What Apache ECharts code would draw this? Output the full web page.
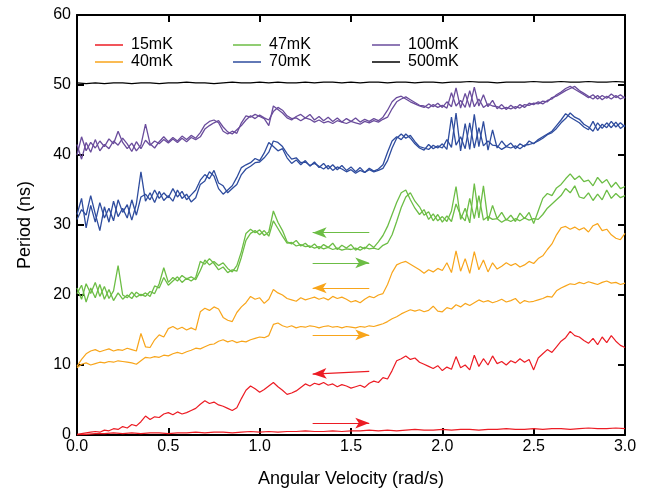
<!DOCTYPE html>
<html>
<head>
<meta charset="utf-8">
<script src="https://cdn.jsdelivr.net/npm/echarts@6/dist/echarts.min.js"></script>
<style>
  html, body { margin: 0; padding: 0; background: #fff; }
  #chart { width: 648px; height: 494px; }
</style>
</head>
<body>
<div id="chart"></div>
<script>
// Period vs angular velocity, sweeps up (forward) and down (backward)

const STEP = 0.025;      // fine sampling for the noisy sweeps
const STEP_FLAT = 0.05;  // coarser sampling for the flat ones

const xTicks = [0, 0.5, 1.0, 1.5, 2.0, 2.5, 3.0];
const yTicks = [0, 10, 20, 30, 40, 50, 60];

// 15mK
const red15Back = [
  0.1, 0.2, 0.3, 0.4, 0.5, 0.4, 0.7, 0.6, 0.9, 0.8,
  1.2, 1.0, 1.5, 1.3, 1.9, 2.7, 2.2, 2.6, 2.5, 3.0,
  3.2, 2.9, 3.3, 3.0, 3.2, 3.5, 3.8, 4.4, 4.9, 4.5,
  4.7, 4.3, 4.1, 3.8, 3.5, 3.9, 5.2, 6.4, 7.0, 6.6,
  6.1, 6.5, 7.0, 7.5, 6.9, 6.4, 5.8, 6.0, 6.3, 6.8,
  7.3, 7.0, 7.4, 7.2, 7.5, 7.1, 7.3, 6.9, 7.2, 7.0,
  6.7, 6.9, 7.1, 6.8, 7.4, 7.7, 7.5, 8.2, 8.0, 9.2,
  10.6, 10.9, 11.3, 10.8, 11.0, 10.4, 10.1, 9.8, 9.5, 9.9,
  9.2, 9.7, 9.4, 11.2, 9.6, 10.0, 9.3, 11.4, 9.8, 10.9,
  10.0, 11.3, 10.2, 10.5, 10.0, 10.6, 10.3, 10.9, 10.4, 10.8,
  9.3, 11.0, 11.6, 12.2, 11.8, 12.6, 13.4, 13.9, 14.8, 14.2,
  14.0, 13.5, 13.1, 13.8, 12.9, 14.0, 13.2, 14.2, 13.4, 12.8,
  12.5
];
const red15Fwd = [ // STEP_FLAT
  0.0, 0.1, 0.2, 0.2, 0.3, 0.2, 0.3, 0.2, 0.3, 0.3,
  0.2, 0.3, 0.3, 0.4, 0.3, 0.4, 0.4, 0.3, 0.4, 0.5,
  0.4, 0.5, 0.4, 0.5, 0.5, 0.6, 0.5, 0.5, 0.6, 0.5,
  0.6, 0.6, 0.7, 0.6, 0.7, 0.6, 0.7, 0.8, 0.7, 0.7,
  0.8, 0.7, 0.8, 0.8, 0.7, 0.8, 0.8, 0.9, 0.8, 0.8,
  0.9, 0.8, 0.9, 0.9, 0.8, 0.9, 1.0, 0.9, 0.9, 1.0,
  0.9
];

// 40mK
const orange40Back = [
  9.8, 10.8, 11.6, 12.0, 12.2, 11.9, 12.1, 12.3, 12.0, 12.2,
  12.1, 12.4, 12.2, 12.0, 14.5, 12.6, 12.5, 13.6, 14.3, 14.0,
  15.2, 15.5, 15.1, 15.4, 15.0, 15.3, 15.0, 17.6, 18.1, 17.8,
  18.3, 18.0, 16.8, 16.4, 16.2, 17.5, 18.3, 18.9, 19.8, 19.4,
  19.6, 18.8, 19.4, 20.8, 20.3, 20.0, 19.5, 19.3, 19.1, 19.6,
  19.3, 19.5, 19.7, 19.4, 19.6, 19.3, 19.8, 19.5, 19.7, 19.4,
  19.0, 19.2, 18.9, 19.4, 19.8, 19.6, 20.0, 20.2, 21.5, 23.2,
  24.3, 24.6, 24.8, 24.4, 24.0, 23.6, 23.1, 23.6, 23.3, 23.8,
  23.5, 24.6, 23.2, 26.3, 23.4, 25.2, 23.1, 26.2, 23.6, 25.0,
  23.3, 24.6, 23.7, 24.1, 24.6, 24.2, 24.5, 24.0, 24.3, 24.8,
  24.5, 25.2, 25.6, 26.5, 27.3, 28.6, 29.6, 29.8, 29.4, 29.7,
  29.3, 29.6, 29.0, 29.9, 30.2, 29.2, 29.4, 28.6, 28.1, 27.9,
  28.8
];
const orange40Fwd = [
  9.6, 10.1, 10.3, 10.0, 10.2, 10.4, 10.3, 10.5, 10.4, 10.6,
  10.5, 10.4, 10.3, 10.1, 10.6, 11.1, 11.0, 11.2, 11.1, 11.4,
  11.3, 11.6, 11.8, 11.6, 11.9, 12.1, 12.4, 12.3, 12.6, 12.9,
  13.0, 13.4, 13.6, 13.3, 13.5, 13.2, 13.4, 13.3, 13.6, 13.8,
  14.0, 13.9, 14.2, 15.8, 16.0, 15.6, 15.4, 15.6, 15.3, 15.5,
  15.4, 15.6, 15.5, 15.3, 15.5, 15.6, 15.4, 15.5, 15.3, 15.5,
  15.4, 15.3, 15.5, 15.4, 15.6, 15.5, 15.7, 15.9, 16.2, 16.6,
  16.9, 17.3, 17.6, 17.9, 17.7, 17.9, 17.6, 17.8, 18.4, 17.7,
  17.6, 18.2, 18.0, 18.6, 18.3, 18.8, 18.5, 18.9, 19.3, 19.0,
  19.2, 18.9, 19.1, 19.4, 19.0, 19.2, 19.5, 18.8, 19.2, 19.0,
  19.1, 19.3, 19.5, 19.8, 19.7, 20.6, 21.0, 21.3, 21.6, 21.5,
  21.8, 21.6, 21.9, 21.7, 21.5, 21.8, 22.0, 21.7, 21.8, 21.5,
  21.7
];

// 47mK
const green47Back = [
  21.0, 19.4, 21.6, 20.2, 21.8, 19.8, 21.2, 19.5, 20.6, 24.2,
  20.0, 19.6, 20.4, 19.7, 20.1, 19.8, 20.5, 20.2, 21.6, 23.9,
  21.8, 22.5, 22.0, 22.8, 22.3, 22.6, 22.2, 23.5, 25.0, 24.3,
  24.8, 24.2, 24.6, 23.8, 23.3, 24.2, 26.2, 28.8, 29.4, 28.9,
  29.3, 28.5, 29.0, 32.0, 30.4, 29.2, 27.6, 27.3, 27.8, 27.0,
  27.4, 26.8, 27.3, 26.6, 27.2, 26.8, 27.4, 26.5, 27.1, 26.7,
  27.2, 26.4, 26.9, 26.6, 27.3, 26.8, 27.6, 28.5, 29.8, 31.5,
  33.2, 34.6, 35.0, 33.6, 32.4, 31.5, 32.2, 30.8, 31.6, 30.6,
  31.2, 30.5, 32.0, 35.5, 30.8, 32.4, 30.3, 35.9, 31.0, 35.6,
  30.6, 32.8, 30.9, 31.8, 30.7, 31.4, 30.5, 31.7, 30.9, 31.8,
  30.2, 32.0, 33.8, 34.5, 34.2, 35.3, 35.8, 36.6, 37.3, 36.5,
  37.0, 36.2, 36.4, 35.6, 36.8, 36.0, 36.5, 35.4, 36.1, 35.2,
  35.5
];
const green47Fwd = [
  20.2, 21.4, 19.0, 21.0, 19.6, 21.5, 19.4, 20.8, 19.2, 20.3,
  19.4, 20.0, 19.5, 20.4, 19.9, 20.3, 19.8, 21.3, 21.0, 22.5,
  21.4, 22.0, 22.6, 21.8, 22.4, 22.0, 22.5, 24.8, 24.4, 25.2,
  24.5, 23.6, 24.0, 23.2, 23.6, 23.4, 25.4, 27.8, 28.8, 29.2,
  28.6, 29.2, 28.4, 30.6, 29.5, 28.4, 27.4, 27.5, 27.0, 27.2,
  26.9, 27.0, 26.7, 26.9, 26.6, 26.8, 26.5, 26.7, 26.4, 26.6,
  26.5, 26.7, 26.4, 26.8, 26.6, 26.7, 26.5, 27.1, 27.4, 28.6,
  30.5, 32.5, 34.0, 34.6, 33.4, 32.6, 31.4, 31.9, 30.6, 31.5,
  30.4, 31.3, 30.5, 33.0, 31.4, 30.6, 33.8, 30.9, 34.2, 30.7,
  31.2, 30.8, 30.9, 30.4, 30.8, 30.5, 30.9, 30.6, 31.0, 30.7,
  30.9, 30.8, 31.5, 32.4, 33.0, 33.6, 34.2, 35.2, 34.6, 35.6,
  34.0, 33.8, 34.6, 33.5, 34.4, 33.6, 35.0, 33.8, 34.5, 33.9,
  34.2
];

// 70mK
const blue70Back = [
  31.5, 33.8, 29.6, 32.8, 30.4, 33.2, 31.0, 32.4, 30.6, 33.6,
  31.8, 32.9, 30.7, 33.0, 37.6, 33.4, 34.6, 33.2, 34.8, 33.5,
  34.2, 33.4, 35.0, 33.8, 34.4, 33.3, 33.9, 35.8, 36.3, 37.6,
  37.0, 35.2, 34.4, 35.0, 35.6, 36.8, 38.2, 38.6, 38.9, 39.5,
  39.2, 40.3, 41.8, 41.2, 40.6, 40.9, 39.6, 38.8, 39.3, 38.6,
  39.2, 38.4, 39.0, 38.2, 38.8, 38.0, 38.6, 37.9, 38.5, 37.8,
  38.3, 37.6, 38.2, 37.5, 38.1, 37.7, 38.0, 38.6, 40.4, 42.0,
  42.6, 42.2, 43.0, 42.4, 41.6, 41.0, 40.7, 41.5, 40.9, 41.3,
  41.0, 42.2, 41.1, 46.0, 40.6, 44.5, 40.8, 45.8, 41.2, 44.8,
  40.7, 43.6, 41.0, 42.0, 41.2, 41.7, 40.9, 41.6, 41.2, 42.0,
  41.6, 42.2, 42.6, 43.0, 43.4, 44.2, 45.0, 45.9, 45.4, 45.0,
  44.6, 44.0, 43.6, 44.8, 43.5, 44.4, 43.9, 44.8, 44.0, 44.6,
  44.0
];
const blue70Fwd = [
  30.8, 32.2, 31.4, 34.2, 31.6, 29.2, 32.6, 30.4, 33.4, 31.2,
  32.4, 31.0, 33.6, 31.4, 34.0, 34.4, 33.6, 35.0, 33.8, 34.6,
  33.9, 35.2, 34.0, 34.8, 33.6, 34.3, 35.0, 36.4, 37.2, 36.6,
  37.8, 36.0, 35.6, 34.6, 35.2, 35.8, 37.2, 38.0, 38.4, 38.9,
  39.0, 39.6, 40.4, 42.0, 41.8, 41.2, 40.2, 39.4, 39.6, 38.9,
  39.0, 38.5, 38.8, 38.4, 38.0, 38.5, 37.8, 38.3, 38.0, 37.6,
  37.9, 37.4, 37.8, 37.5, 37.9, 37.6, 37.8, 38.1, 39.2, 41.0,
  42.4, 43.0, 42.4, 42.8, 41.9, 41.2, 41.0, 40.8, 41.4, 41.0,
  41.6, 40.8, 45.4, 41.4, 42.6, 40.9, 44.6, 41.0, 43.9, 41.3,
  42.0, 41.4, 41.3, 40.8, 41.2, 41.0, 41.3, 40.9, 41.4, 41.5,
  41.7, 42.0, 42.4, 42.9, 43.2, 43.8, 44.6, 45.2, 46.0, 45.4,
  45.1, 44.4, 44.0, 43.4, 44.6, 43.8, 44.6, 43.9, 44.7, 43.8,
  44.3
];

// 100mK
const purple100Back = [
  40.0, 42.6, 40.6, 41.8, 41.0, 42.0, 41.2, 42.3, 41.6, 43.4,
  41.8, 40.9, 41.7, 40.6, 41.4, 44.4, 41.6, 41.0, 41.9, 42.6,
  41.9, 42.5, 42.0, 42.7, 42.2, 42.8, 42.4, 43.2, 44.3, 44.8,
  45.0, 44.6, 43.4, 43.0, 43.4, 43.1, 44.6, 45.6, 45.4, 45.8,
  45.5, 45.2, 44.2, 47.0, 46.5, 46.0, 45.3, 45.0, 45.5, 45.8,
  45.3, 45.8, 45.0, 45.5, 44.9, 45.4, 44.8, 45.3, 44.7, 45.2,
  44.8, 45.3, 44.7, 45.1, 44.8, 45.2, 44.9, 45.4, 46.4, 47.6,
  48.2, 48.4, 48.0, 47.6, 47.3, 47.0, 46.8, 47.3, 46.9, 47.4,
  46.8, 47.6, 46.9, 49.6, 46.7, 48.8, 46.8, 49.7, 47.0, 48.6,
  46.9, 47.8, 46.6, 47.2, 46.5, 47.1, 46.6, 47.2, 46.8, 47.4,
  47.2, 47.6, 47.3, 47.8, 48.0, 48.6, 49.0, 49.5, 49.8, 49.4,
  49.0, 48.6, 48.2, 48.6, 48.0, 48.5, 48.1, 48.7, 48.2, 48.6,
  48.1
];
const purple100Fwd = [
  41.5, 39.4, 41.8, 40.4, 42.2, 40.6, 41.5, 40.9, 42.0, 41.4,
  42.4, 41.6, 40.5, 41.9, 40.9, 42.1, 41.4, 42.0, 41.6, 42.2,
  41.7, 42.3, 41.8, 42.4, 41.9, 42.5, 42.2, 42.6, 43.7, 44.2,
  44.6, 44.9, 44.0, 43.3, 43.0, 43.6, 44.2, 45.0, 45.6, 45.2,
  45.7, 45.3, 45.0, 46.2, 46.8, 46.4, 45.6, 45.2, 45.3, 44.9,
  45.3, 45.1, 44.7, 45.0, 44.6, 44.8, 44.5, 44.9, 44.7, 44.5,
  44.8, 44.6, 44.4, 44.8, 44.6, 44.9, 44.7, 45.1, 45.4, 46.6,
  47.6, 48.0, 48.3, 47.9, 47.5, 47.1, 47.0, 46.7, 47.2, 46.8,
  47.1, 46.7, 48.9, 47.0, 47.8, 46.8, 49.2, 46.9, 48.0, 46.8,
  47.3, 47.0, 46.9, 46.6, 46.8, 46.6, 46.9, 46.7, 47.2, 47.1,
  47.4, 47.3, 47.7, 47.6, 48.2, 48.4, 48.8, 49.2, 49.5, 49.8,
  49.2, 48.8, 48.4, 48.0, 48.5, 47.9, 48.4, 48.0, 48.5, 48.0,
  48.3
];

// 500mK
const black500 = [ // STEP_FLAT
  50.3, 50.2, 50.3, 50.2, 50.3, 50.3, 50.2, 50.3, 50.3, 50.2,
  50.3, 50.3, 50.4, 50.3, 50.3, 50.2, 50.3, 50.4, 50.3, 50.3,
  50.4, 50.3, 50.4, 50.3, 50.3, 50.4, 50.3, 50.4, 50.4, 50.3,
  50.4, 50.3, 50.4, 50.4, 50.3, 50.4, 50.4, 50.3, 50.4, 50.4,
  50.3, 50.4, 50.4, 50.5, 50.4, 50.4, 50.3, 50.4, 50.4, 50.4,
  50.5, 50.4, 50.4, 50.5, 50.4, 50.4, 50.5, 50.4, 50.4, 50.5,
  50.4
];

// sweep direction arrows: [x, y] tail -> head
const arrowTails = [[1.60, 28.9], [1.29, 24.6], [1.60, 21.0], [1.29, 14.3], [1.60, 9.1], [1.29, 1.7]];
const arrowHeads = [[1.29, 28.9], [1.60, 24.6], [1.29, 21.0], [1.60, 14.3], [1.29, 8.7], [1.60, 1.7]];

const RED = '#ec1c24', ORANGE = '#f8a51b', GREEN = '#6cbd45';
const BLUE = '#2e4c9e', PURPLE = '#6a4c9c', BLACK = '#000000';
const arrowColors = [GREEN, GREEN, ORANGE, ORANGE, RED, RED];

const FONT = 'Liberation Sans, Arial, Helvetica, sans-serif';

function toPairs(ys, step) {
  return ys.map((y, i) => [+(i * step).toFixed(3), y]);
}

function sweep(name, ys, color, step, width) {
  return {
    name: name,
    type: 'line',
    data: toPairs(ys, step || STEP),
    showSymbol: false,
    symbol: 'none',
    lineStyle: { color: color, width: width || 1.2 },
    itemStyle: { color: color },
    animation: false,
    z: 3
  };
}

const chart = echarts.init(document.getElementById('chart'), null, { renderer: 'canvas' });

const axisLineStyle = { onZero: false, lineStyle: { color: '#000', width: 2 } };
const tickStyle = { show: true, inside: true, length: 7, lineStyle: { color: '#000', width: 2 } };

function legendCol(left, names) {
  return {
    left: left,
    top: 37,
    orient: 'vertical',
    padding: 0,
    itemGap: 1,
    itemWidth: 28,
    itemHeight: 1.5,
    icon: 'rect',
    data: names,
    selectedMode: false,
    textStyle: { fontFamily: FONT, fontSize: 16, color: '#000', lineHeight: 16, padding: [0, 0, 0, 3] }
  };
}

const arrowLines = arrowTails.map((t, i) => [
  { coord: t, lineStyle: { color: arrowColors[i], width: 1.2, type: 'solid' }, itemStyle: { color: arrowColors[i] } },
  { coord: arrowHeads[i] }
]);

const option = {
  animation: false,
  backgroundColor: '#fff',
  grid: { left: 77, right: 23, top: 15, bottom: 59, containLabel: false },
  legend: [
    legendCol(95, ['15mK', '40mK']),
    legendCol(233, ['47mK', '70mK']),
    legendCol(372, ['100mK', '500mK'])
  ],
  xAxis: [
    {
      type: 'value', min: xTicks[0], max: xTicks[xTicks.length - 1], interval: 0.5,
      axisLine: axisLineStyle, axisTick: tickStyle, splitLine: { show: false },
      axisLabel: { fontFamily: FONT, fontSize: 16, color: '#000', margin: 4, formatter: v => v.toFixed(1) },
      name: 'Angular Velocity (rad/s)', nameLocation: 'middle', nameGap: 35,
      nameTextStyle: { fontFamily: FONT, fontSize: 18, color: '#000' }
    },
    {
      type: 'value', position: 'top', min: xTicks[0], max: xTicks[xTicks.length - 1], interval: 0.5,
      axisLine: axisLineStyle, axisTick: tickStyle, splitLine: { show: false },
      axisLabel: { show: false }
    }
  ],
  yAxis: [
    {
      type: 'value', min: yTicks[0], max: yTicks[yTicks.length - 1], interval: 10,
      axisLine: axisLineStyle, axisTick: tickStyle, splitLine: { show: false },
      axisLabel: { fontFamily: FONT, fontSize: 16, color: '#000', margin: 6 },
      name: 'Period (ns)', nameLocation: 'middle', nameGap: 43,
      nameTextStyle: { fontFamily: FONT, fontSize: 18, color: '#000' }
    },
    {
      type: 'value', position: 'right', min: yTicks[0], max: yTicks[yTicks.length - 1], interval: 10,
      axisLine: axisLineStyle, axisTick: tickStyle, splitLine: { show: false },
      axisLabel: { show: false }
    }
  ],
  series: [
    sweep('500mK', black500, BLACK, STEP_FLAT),
    sweep('100mK', purple100Back, PURPLE, STEP, 1.3),
    sweep('100mK', purple100Fwd, PURPLE, STEP, 1.3),
    sweep('70mK', blue70Back, BLUE, STEP, 1.3),
    sweep('70mK', blue70Fwd, BLUE, STEP, 1.3),
    sweep('47mK', green47Back, GREEN, STEP, 1.3),
    sweep('47mK', green47Fwd, GREEN, STEP, 1.3),
    sweep('40mK', orange40Back, ORANGE),
    sweep('40mK', orange40Fwd, ORANGE),
    sweep('15mK', red15Back, RED),
    sweep('15mK', red15Fwd, RED, STEP_FLAT),
    {
      name: 'arrows',
      type: 'line',
      data: [],
      markLine: {
        silent: true,
        animation: false,
        symbol: ['none', 'arrow'],
        symbolSize: [8, 14],
        label: { show: false },
        data: arrowLines
      }
    }
  ]
};

chart.setOption(option);
</script>
</body>
</html>
